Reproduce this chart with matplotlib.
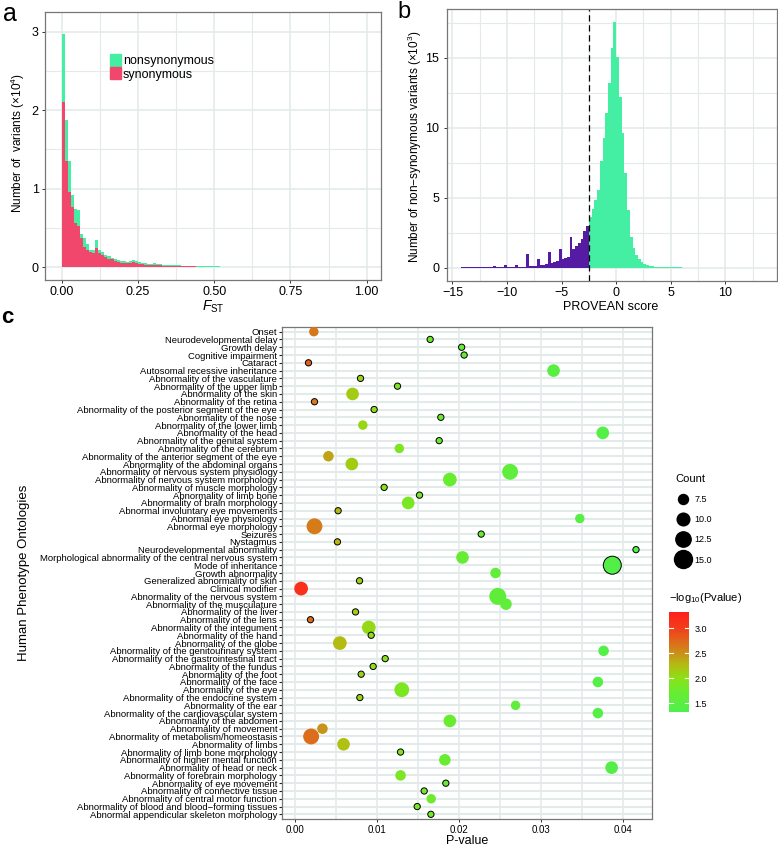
import numpy as np
import matplotlib
matplotlib.use("Agg")
import matplotlib.pyplot as plt
from matplotlib.colors import LinearSegmentedColormap, Normalize
from matplotlib.cm import ScalarMappable
from matplotlib.patches import Patch
from matplotlib.lines import Line2D

# ---- panel a: Fst histogram (x10^4 variants), bins of 0.01 starting at 0
fst_binwidth = 0.01
synonymous = [
    2.11, 1.35, 0.96, 0.77, 0.56, 0.52, 0.37, 0.26, 0.22, 0.19,
    0.18, 0.24, 0.18, 0.16, 0.13, 0.11, 0.10, 0.08, 0.07, 0.06,
    0.055, 0.05, 0.055, 0.065, 0.055, 0.045, 0.04, 0.035, 0.03, 0.03,
    0.035, 0.03, 0.025, 0.022, 0.02, 0.019, 0.017, 0.016, 0.015, 0.013,
    0.012, 0.011, 0.010, 0.010, 0.009, 0.008, 0.008, 0.007, 0.007, 0.006,
    0.006, 0.005, 0.005, 0.005, 0.004, 0.004, 0.004, 0.003, 0.003, 0.003,
    0.002, 0.002, 0.002, 0.002, 0.002, 0.001, 0.001, 0.001, 0.001, 0.001,
]
nonsynonymous = [
    0.86, 0.53, 0.39, 0.15, 0.18, 0.21, 0.06, 0.11, 0.07, 0.03,
    0.04, 0.11, 0.04, 0.03, 0.03, 0.03, 0.02, 0.02, 0.02, 0.02,
    0.02, 0.02, 0.025, 0.025, 0.02, 0.018, 0.016, 0.015, 0.014, 0.014,
    0.014, 0.013, 0.012, 0.011, 0.011, 0.010, 0.010, 0.009, 0.009, 0.008,
    0.008, 0.008, 0.007, 0.007, 0.007, 0.006, 0.006, 0.006, 0.005, 0.005,
    0.005, 0.005, 0.004, 0.004, 0.004, 0.004, 0.003, 0.003, 0.003, 0.003,
    0.003, 0.002, 0.002, 0.002, 0.002, 0.002, 0.002, 0.001, 0.001, 0.001,
]

# ---- panel b: PROVEAN score histogram (x10^3 variants), bins of 0.25
provean_binwidth = 0.25
cutoff = -2.5
deleterious_start = -14.25
deleterious = [
    0.04, 0.03, 0.02, 0.02, 0.04, 0.02, 0.02, 0.03, 0.06, 0.03,
    0.03, 0.03, 0.09, 0.03, 0.04, 0.05, 0.20, 0.05, 0.05, 0.06,
    0.16, 0.06, 0.07, 0.08, 0.95, 0.12, 0.13, 0.15, 0.60, 0.18,
    0.20, 0.25, 1.15, 0.35, 0.40, 0.45, 1.35, 0.60, 0.70, 0.80,
    2.20, 1.35, 1.55, 1.75, 2.05, 2.65, 2.95,
]
neutral = [
    3.6, 4.2, 4.85, 5.55, 7.6, 9.25, 11.05, 13.2, 15.7, 17.6,
    15.1, 12.2, 9.6, 6.75, 4.1, 2.2, 1.4, 0.9, 0.6, 0.42,
    0.3, 0.2, 0.14, 0.1, 0.08, 0.06, 0.05, 0.04, 0.035, 0.03,
    0.025, 0.02, 0.02, 0.018, 0.015, 0.013, 0.012, 0.01, 0.01, 0.01,
    0.008, 0.008, 0.007, 0.006, 0.006, 0.005, 0.005, 0.005, 0.004, 0.004,
]

# ---- panel c: HPO enrichment
terms = [
    "Onset", "Neurodevelopmental delay", "Growth delay", "Cognitive impairment",
    "Cataract", "Autosomal recessive inheritance", "Abnormality of the vasculature",
    "Abnormality of the upper limb", "Abnormality of the skin", "Abnormality of the retina",
    "Abnormality of the posterior segment of the eye", "Abnormality of the nose",
    "Abnormality of the lower limb", "Abnormality of the head",
    "Abnormality of the genital system", "Abnormality of the cerebrum",
    "Abnormality of the anterior segment of the eye", "Abnormality of the abdominal organs",
    "Abnormality of nervous system physiology", "Abnormality of nervous system morphology",
    "Abnormality of muscle morphology", "Abnormality of limb bone",
    "Abnormality of brain morphology", "Abnormal involuntary eye movements",
    "Abnormal eye physiology", "Abnormal eye morphology", "Seizures", "Nystagmus",
    "Neurodevelopmental abnormality",
    "Morphological abnormality of the central nervous system", "Mode of inheritance",
    "Growth abnormality", "Generalized abnormality of skin", "Clinical modifier",
    "Abnormality of the nervous system", "Abnormality of the musculature",
    "Abnormality of the liver", "Abnormality of the lens", "Abnormality of the integument",
    "Abnormality of the hand", "Abnormality of the globe",
    "Abnormality of the genitourinary system", "Abnormality of the gastrointestinal tract",
    "Abnormality of the fundus", "Abnormality of the foot", "Abnormality of the face",
    "Abnormality of the eye", "Abnormality of the endocrine system",
    "Abnormality of the ear", "Abnormality of the cardiovascular system",
    "Abnormality of the abdomen", "Abnormality of movement",
    "Abnormality of metabolism/homeostasis", "Abnormality of limbs",
    "Abnormality of limb bone morphology", "Abnormality of higher mental function",
    "Abnormality of head or neck", "Abnormality of forebrain morphology",
    "Abnormality of eye movement", "Abnormality of connective tissue",
    "Abnormality of central motor function",
    "Abnormality of blood and blood\u2212forming tissues",
    "Abnormal appendicular skeleton morphology",
]
pvalue = [
    0.00228, 0.01646, 0.0203, 0.0206, 0.00163, 0.0315, 0.00797, 0.01248, 0.0070, 0.00236,
    0.00963, 0.01776, 0.00825, 0.0375, 0.01756, 0.0127, 0.00406, 0.00691, 0.0262, 0.01886,
    0.01085, 0.01516, 0.01378, 0.00524, 0.0347, 0.00236, 0.02268, 0.00516, 0.04155, 0.0204,
    0.03866, 0.02443, 0.00785, 0.00073, 0.0247, 0.0257, 0.00736, 0.00187, 0.00898, 0.00927,
    0.00545, 0.0376, 0.01098, 0.00951, 0.00805, 0.0369, 0.0130, 0.00789, 0.02687, 0.0369,
    0.01886, 0.00333, 0.00195, 0.0059, 0.01285, 0.01825, 0.03858, 0.01285, 0.01837, 0.01573,
    0.01659, 0.01488, 0.01655,
]
count = [
    7, 4, 4, 4, 4, 10, 4, 4, 10, 4,
    4, 4, 7, 10, 4, 7, 8, 10, 13, 11,
    4, 4, 10, 4, 7, 13, 4, 4, 4, 10,
    15, 8, 4, 11, 14, 9, 4, 4, 11, 4,
    11, 8, 4, 4, 4, 8, 12, 4, 7, 8,
    10, 8, 13, 10, 4, 9, 10, 8, 4, 4,
    7, 4, 4,
]
outlined = [
    0, 1, 1, 1, 1, 0, 1, 1, 0, 1,
    1, 1, 0, 0, 1, 0, 0, 0, 0, 0,
    1, 1, 0, 1, 0, 0, 1, 1, 1, 0,
    1, 0, 1, 0, 0, 0, 1, 1, 0, 1,
    0, 0, 1, 1, 1, 0, 0, 1, 0, 0,
    0, 0, 0, 0, 1, 0, 0, 0, 1, 1,
    0, 1, 1,
]
count_legend = [7.5, 10.0, 12.5, 15.0]

plt.rcParams["font.family"] = ["Liberation Sans", "DejaVu Sans"]
plt.rcParams["mathtext.fontset"] = "custom"
plt.rcParams["mathtext.rm"] = "Liberation Sans"
plt.rcParams["mathtext.it"] = "Liberation Sans:italic"

W, H = 778, 846
fig = plt.figure(figsize=(W / 100, H / 100), dpi=100)


def box(l, t, r, b):
    return [l / W, 1 - b / H, (r - l) / W, (b - t) / H]


GRID = "#E2EAEA"
GREEN = "#44EEA2"
RED = "#F2476C"
PURPLE = "#551CA3"


def style(ax, lsize=9):
    ax.set_axisbelow(True)
    ax.grid(True, which="major", color=GRID, lw=1.1)
    ax.grid(True, which="minor", color=GRID, lw=0.8)
    for s in ax.spines.values():
        s.set_color("#777777")
        s.set_linewidth(0.9)
    ax.tick_params(length=2.5, width=0.7, color="#333333", labelsize=lsize, pad=2)
    ax.tick_params(which="minor", length=0)


# ---------------- panel a
ax = fig.add_axes(box(45, 12, 381, 280))
style(ax)
x = np.arange(len(synonymous)) * fst_binwidth
ax.bar(x, synonymous, width=fst_binwidth, align="edge", color=RED, lw=0)
ax.bar(x, nonsynonymous, bottom=synonymous, width=fst_binwidth, align="edge", color=GREEN, lw=0)
ax.set_xlim(-0.0548, 1.047)
ax.set_ylim(-0.162, 3.25)
ax.set_xticks([0, 0.25, 0.5, 0.75, 1.0], ["0.00", "0.25", "0.50", "0.75", "1.00"])
ax.set_xticks([0.125, 0.375, 0.625, 0.875], minor=True)
ax.set_yticks([0, 1, 2, 3])
ax.set_yticks([0.5, 1.5, 2.5], minor=True)
ax.legend(handles=[Patch(color=GREEN), Patch(color=RED)],
          labels=["nonsynonymous", "synonymous"], loc="upper left",
          bbox_to_anchor=(0.193, 0.845), frameon=False, fontsize=9,
          handlelength=0.9, handleheight=1.1, handletextpad=0.15,
          labelspacing=0.05, borderpad=0, borderaxespad=0)

fig.text(3 / W, 1 - 21 / H, "a", fontsize=18, va="baseline")
fig.text(18 / W, 1 - 143 / H, "Number of  variants (\u00d710$^4$)", rotation=90,
         ha="center", va="center", fontsize=8.5)
fig.text(213 / W, 1 - 307 / H, r"$F_{\mathrm{ST}}$", ha="center", va="center", fontsize=10)

# ---------------- panel b
ax = fig.add_axes(box(447, 9, 777, 281))
style(ax)
ax.tick_params(axis="y", pad=3)
xd = deleterious_start + np.arange(len(deleterious)) * provean_binwidth
xn = cutoff + np.arange(len(neutral)) * provean_binwidth
ax.bar(xd, deleterious, width=provean_binwidth, align="edge", color=PURPLE, lw=0)
ax.bar(xn, neutral, width=provean_binwidth, align="edge", color=GREEN, lw=0)
ax.axvline(cutoff, color="black", ls=(0, (5, 3)), lw=0.9)
ax.set_xlim(-15.5, 14.74)
ax.set_ylim(-0.95, 18.5)
ax.set_xticks([-15, -10, -5, 0, 5, 10])
ax.set_xticks([-12.5, -7.5, -2.5, 2.5, 7.5, 12.5], minor=True)
ax.set_yticks([0, 5, 10, 15])
ax.set_yticks([2.5, 7.5, 12.5, 17.5], minor=True)

fig.text(397 / W, 1 - 18 / H, "b", fontsize=17, va="baseline")
fig.text(415 / W, 1 - 147 / H, "Number of non\u2212synonymous variants (\u00d710$^3$)",
         rotation=90, ha="center", va="center", fontsize=8.5)
fig.text(611 / W, 1 - 307 / H, "PROVEAN score", ha="center", va="center", fontsize=9)

# ---------------- panel c
cvals = [1.33, 1.75, 2.0, 2.25, 2.5, 2.75, 3.0, 3.32]
ccols = ["#4EF04E", "#6AEC2E", "#8CE018", "#B2BE12", "#C9901A", "#E0661A", "#F23E1A", "#FF1E1E"]
cmap = LinearSegmentedColormap.from_list(
    "pv", [((v - cvals[0]) / (cvals[-1] - cvals[0]), c) for v, c in zip(cvals, ccols)])
norm = Normalize(cvals[0], cvals[-1])


def diam_pt(n):
    # marker diameter in points (px * 0.72)
    return (10 + (n - 7.5) * 1.0667) * 0.72


ax = fig.add_axes(box(282, 327, 652, 819))
ax.set_axisbelow(True)
ax.grid(True, which="major", axis="y", color=GRID, lw=1.5)
ax.grid(True, which="both", axis="x", color=GRID, lw=1.1)
for s in ax.spines.values():
    s.set_color("#777777")
    s.set_linewidth(0.9)
rows = np.arange(1, len(terms) + 1)
pv = np.array(pvalue)
ax.scatter(pv, rows, s=[diam_pt(n) ** 2 for n in count],
           c=cmap(norm(-np.log10(pv))),
           edgecolors=["black" if o else "none" for o in outlined],
           linewidths=0.7, zorder=3)
ax.set_yticks(rows, terms)
ax.set_ylim(len(terms) + 0.6, 0.4)
ax.set_xlim(-0.0016, 0.0435)
ax.set_xticks([0, 0.01, 0.02, 0.03, 0.04], ["0.00", "0.01", "0.02", "0.03", "0.04"])
ax.set_xticks([0.005, 0.015, 0.025, 0.035], minor=True)
ax.tick_params(axis="y", length=2.5, width=0.8, color="#222222", labelsize=6.8, pad=1)
ax.tick_params(axis="x", length=2.5, width=0.7, color="#333333", labelsize=7, pad=1.5)
ax.tick_params(which="minor", length=0)

ax.legend(handles=[Line2D([], [], marker="o", ls="", color="black", markersize=diam_pt(n))
                   for n in count_legend],
          labels=[f"{n:.1f}" for n in count_legend], title="Count",
          loc="upper left", bbox_to_anchor=(671 / W, 1 - 469 / H),
          bbox_transform=fig.transFigure, frameon=False, fontsize=6.5,
          title_fontsize=8, alignment="left", borderpad=0, handlelength=1.6,
          handletextpad=0.5, labelspacing=1.25)

cax = fig.add_axes(box(669, 612, 689, 712))
cb = fig.colorbar(ScalarMappable(norm=norm, cmap=cmap), cax=cax)
cb.outline.set_visible(False)
cb.set_ticks([1.5, 2.0, 2.5, 3.0])
cax.tick_params(length=0, labelsize=6.5, pad=4)
for t in [1.5, 2.0, 2.5, 3.0]:
    cax.axhline(t, xmin=0, xmax=0.2, color="white", lw=0.8)
    cax.axhline(t, xmin=0.8, xmax=1, color="white", lw=0.8)
fig.text(669 / W, 1 - 598 / H, "\u2212log$_{10}$(Pvalue)", ha="left", va="center", fontsize=8)

fig.text(1 / W, 1 - 323 / H, "c", fontsize=16, fontweight="bold", va="baseline")
fig.text(24 / W, 1 - 573 / H, "Human Phenotype Ontologies", rotation=90,
         ha="center", va="center", fontsize=9.5)
fig.text(467 / W, 1 - 835 / H, "P-value", ha="center", va="top", fontsize=9)

fig.savefig("out.png", dpi=100)
